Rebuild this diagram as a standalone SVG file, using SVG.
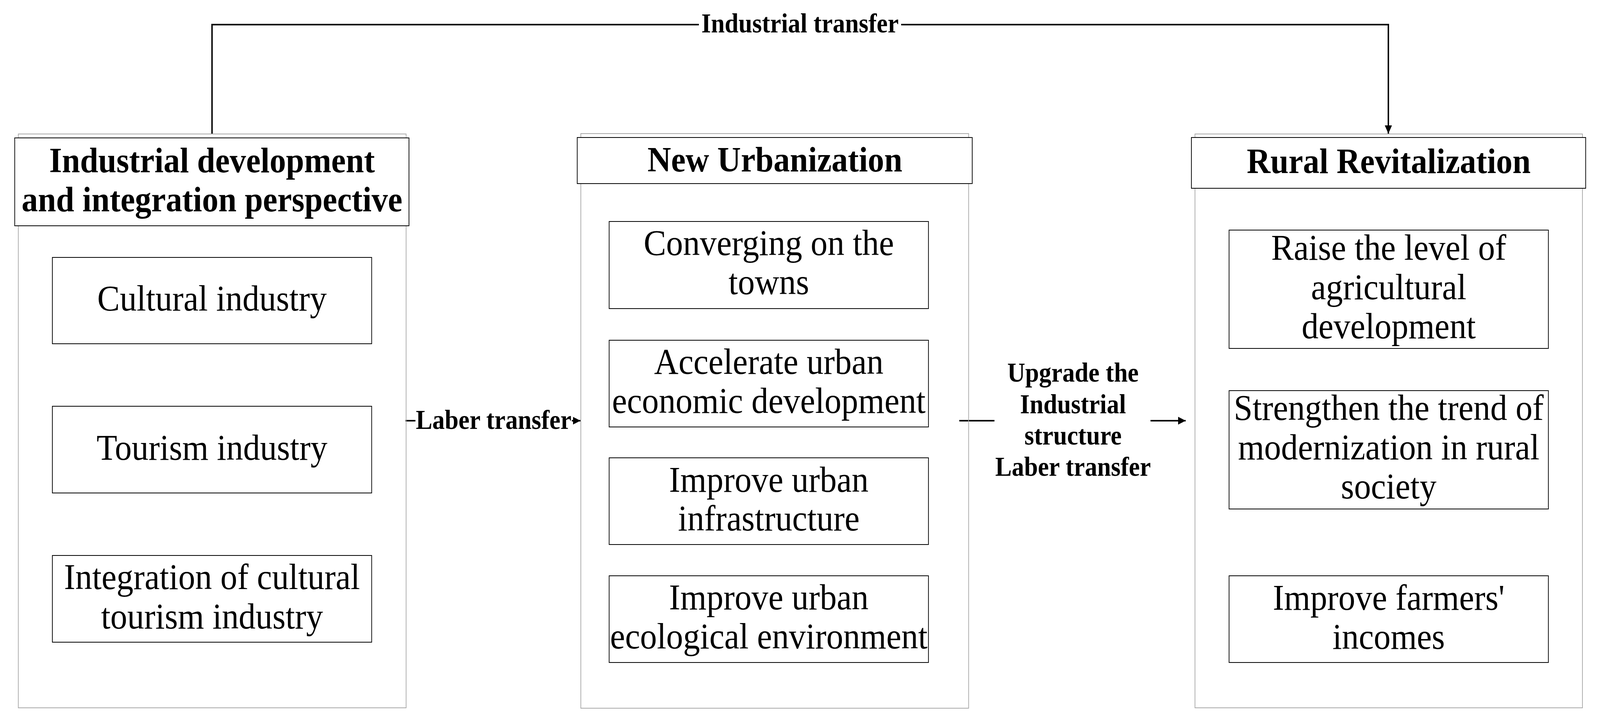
<svg xmlns="http://www.w3.org/2000/svg" width="4460" height="1856" viewBox="0 0 4460 1856">
<style>
  .outer { fill: none; stroke: #a9a9a9; stroke-width: 2; }
  .box { fill: #ffffff; stroke: #000000; stroke-width: 2; }
  .title { font-family: "Liberation Serif", "Times New Roman", serif; font-weight: bold; font-size: 91px; fill: #000; text-anchor: middle; }
  .txt { font-family: "Liberation Serif", "Times New Roman", serif; font-size: 94px; fill: #000; text-anchor: middle; }
  .lbl { font-family: "Liberation Serif", "Times New Roman", serif; font-weight: bold; font-size: 69px; fill: #000; text-anchor: middle; }
  .conn { fill: none; stroke: #000000; stroke-width: 4; }
</style>
<defs>
  <marker id="arrow" markerUnits="userSpaceOnUse" markerWidth="22" markerHeight="20" refX="21" refY="10" orient="auto">
    <path d="M0,0 L21,10 L0,20 Z" fill="#000"/>
  </marker>
</defs>
<rect x="0" y="0" width="4460" height="1856" fill="#ffffff"/>

<g id="diagram" transform="scale(0.9184 1)">
<g id="connectors">
  <polyline class="conn" points="591,343 591,63 1948,63"/>
  <polyline class="conn" points="2512,63 3870,63 3870,342" marker-end="url(#arrow)"/>
  <line class="conn" x1="1130" y1="1077" x2="1158" y2="1077"/>
  <line class="conn" x1="1594" y1="1077" x2="1618" y2="1077" marker-end="url(#arrow)"/>
  <line class="conn" x1="2674" y1="1077" x2="2772" y2="1077"/>
  <line class="conn" x1="3207" y1="1077" x2="3305" y2="1077" marker-end="url(#arrow)"/>
  <text class="lbl" x="2230" y="83">Industrial transfer</text>
  <text class="lbl" x="1376" y="1098">Laber transfer</text>
  <text class="lbl" x="2991" y="977">Upgrade the</text>
  <text class="lbl" x="2991" y="1058">Industrial</text>
  <text class="lbl" x="2991" y="1138">structure</text>
  <text class="lbl" x="2991" y="1218">Laber transfer</text>
</g>

<g id="industrial-development">
  <rect class="outer" x="51" y="343" width="1081" height="1469"/>
  <rect class="box" x="41" y="353" width="1099" height="225"/>
  <text class="title" x="591" y="441">Industrial development</text>
  <text class="title" x="591" y="541">and integration perspective</text>
</g>
<g id="cultural-industry">
  <rect class="box" x="146" y="659" width="890" height="221"/>
  <text class="txt" x="591" y="795">Cultural industry</text>
</g>
<g id="tourism-industry">
  <rect class="box" x="146" y="1040" width="890" height="222"/>
  <text class="txt" x="591" y="1177">Tourism industry</text>
</g>
<g id="integration-cultural-tourism">
  <rect class="box" x="146" y="1422" width="890" height="222"/>
  <text class="txt" x="591" y="1508">Integration of cultural</text>
  <text class="txt" x="591" y="1609">tourism industry</text>
</g>

<g id="new-urbanization">
  <rect class="outer" x="1619" y="342" width="1081" height="1471"/>
  <rect class="box" x="1609" y="352" width="1101" height="118"/>
  <text class="title" x="2160" y="439">New Urbanization</text>
</g>
<g id="converging-towns">
  <rect class="box" x="1698" y="567" width="890" height="223"/>
  <text class="txt" x="2143" y="653">Converging on the</text>
  <text class="txt" x="2143" y="753">towns</text>
</g>
<g id="accelerate-economic">
  <rect class="box" x="1698" y="871" width="890" height="222"/>
  <text class="txt" x="2143" y="957">Accelerate urban</text>
  <text class="txt" x="2143" y="1057">economic development</text>
</g>
<g id="urban-infrastructure">
  <rect class="box" x="1698" y="1172" width="890" height="222"/>
  <text class="txt" x="2143" y="1259">Improve urban</text>
  <text class="txt" x="2143" y="1358">infrastructure</text>
</g>
<g id="urban-ecology">
  <rect class="box" x="1698" y="1474" width="890" height="222"/>
  <text class="txt" x="2143" y="1560">Improve urban</text>
  <text class="txt" x="2143" y="1660">ecological environment</text>
</g>

<g id="rural-revitalization">
  <rect class="outer" x="3331" y="343" width="1080" height="1469"/>
  <rect class="box" x="3321" y="352" width="1099" height="130"/>
  <text class="title" x="3871" y="443">Rural Revitalization</text>
</g>
<g id="agricultural-development">
  <rect class="box" x="3426" y="589" width="890" height="303"/>
  <text class="txt" x="3871" y="665">Raise the level of</text>
  <text class="txt" x="3871" y="766">agricultural</text>
  <text class="txt" x="3871" y="866">development</text>
</g>
<g id="rural-modernization">
  <rect class="box" x="3426" y="1000" width="890" height="303"/>
  <text class="txt" x="3871" y="1075">Strengthen the trend of</text>
  <text class="txt" x="3871" y="1176">modernization in rural</text>
  <text class="txt" x="3871" y="1276">society</text>
</g>
<g id="farmers-incomes">
  <rect class="box" x="3426" y="1474" width="890" height="222"/>
  <text class="txt" x="3871" y="1561">Improve farmers'</text>
  <text class="txt" x="3871" y="1661">incomes</text>
</g>
</g>
</svg>
